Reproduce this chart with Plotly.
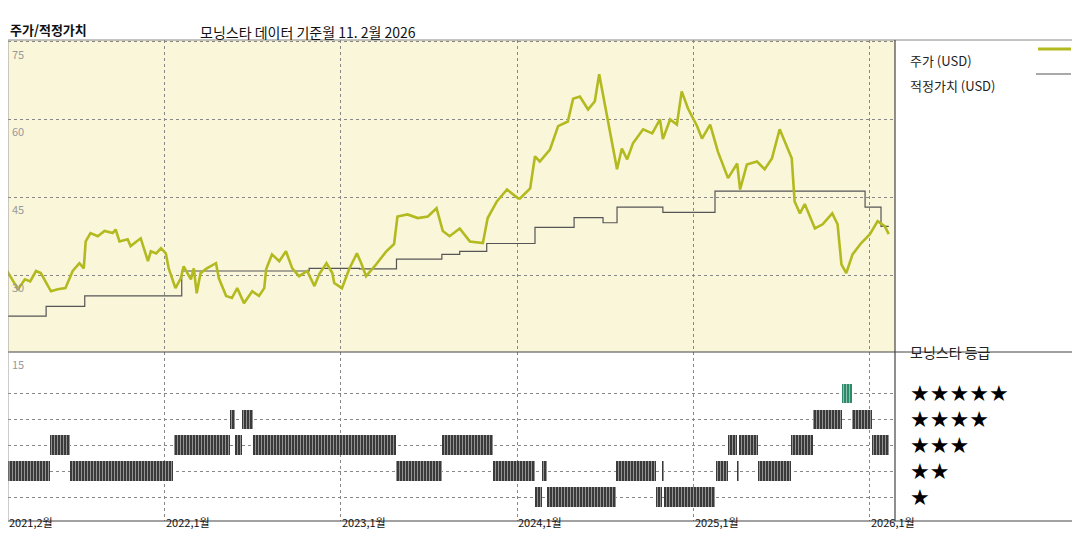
import pandas as pd
import plotly.graph_objects as go

# price (USD)
price_dates = [
    "2021-02-01", "2021-02-07", "2021-02-21", "2021-03-03", "2021-03-17", "2021-03-28", "2021-04-09",
    "2021-04-19", "2021-05-10", "2021-05-24", "2021-06-09", "2021-06-24", "2021-07-08", "2021-07-17",
    "2021-07-21", "2021-07-31", "2021-08-15", "2021-08-29", "2021-09-15", "2021-09-21", "2021-09-29",
    "2021-10-16", "2021-10-22", "2021-11-12", "2021-11-27", "2021-12-03", "2021-12-14", "2021-12-24",
    "2022-01-03", "2022-01-09", "2022-01-23", "2022-02-03", "2022-02-09", "2022-02-24", "2022-03-02",
    "2022-03-08", "2022-03-16", "2022-03-29", "2022-04-17", "2022-04-23", "2022-05-08", "2022-05-20",
    "2022-05-31", "2022-06-14", "2022-07-01", "2022-07-15", "2022-07-26", "2022-07-30", "2022-08-11",
    "2022-08-26", "2022-09-09", "2022-09-22", "2022-10-06", "2022-10-23", "2022-11-07", "2022-11-17",
    "2022-12-02", "2022-12-14", "2022-12-18", "2023-01-03", "2023-01-18", "2023-02-03", "2023-02-12",
    "2023-02-22", "2023-03-15", "2023-04-05", "2023-04-21", "2023-04-28", "2023-05-19", "2023-06-09",
    "2023-06-30", "2023-07-18", "2023-07-31", "2023-08-14", "2023-09-04", "2023-09-25", "2023-10-22",
    "2023-11-01", "2023-11-20", "2023-12-11", "2024-01-03", "2024-01-07", "2024-01-28", "2024-02-07",
    "2024-02-17", "2024-03-09", "2024-03-26", "2024-04-15", "2024-04-26", "2024-05-10", "2024-05-27",
    "2024-06-10", "2024-06-19", "2024-07-01", "2024-07-11", "2024-07-26", "2024-08-05", "2024-08-16",
    "2024-08-28", "2024-09-18", "2024-10-07", "2024-10-23", "2024-10-29", "2024-11-13", "2024-11-27",
    "2024-12-07", "2024-12-20", "2025-01-08", "2025-01-18", "2025-02-04", "2025-02-20", "2025-03-13",
    "2025-04-01", "2025-04-07", "2025-04-21", "2025-05-12", "2025-05-28", "2025-06-12", "2025-06-28",
    "2025-07-15", "2025-07-23", "2025-07-29", "2025-08-09", "2025-08-19", "2025-09-09", "2025-09-25",
    "2025-10-15", "2025-10-26", "2025-11-03", "2025-11-13", "2025-11-26", "2025-12-14", "2026-01-01",
    "2026-01-17", "2026-02-01", "2026-02-09",
]
price_vals = [
    30.4, 31.0, 28.8, 27.3, 29.2, 28.8, 30.8,
    30.4, 26.9, 27.3, 27.5, 30.8, 32.3, 31.3,
    36.5, 38.1, 37.5, 38.5, 38.1, 38.8, 36.5,
    36.9, 35.6, 37.1, 32.7, 34.6, 34.2, 35.2,
    34.2, 31.3, 27.5, 29.4, 31.7, 29.2, 31.3,
    26.5, 30.4, 31.3, 32.3, 29.4, 26.0, 25.6,
    27.5, 24.6, 26.9, 26.0, 27.5, 31.2, 34.0,
    32.7, 34.6, 31.3, 29.8, 30.8, 27.9, 30.2,
    32.3, 30.4, 28.5, 27.5, 31.2, 34.2, 32.3,
    29.8, 32.1, 34.6, 36.0, 41.3, 41.7, 41.0,
    41.3, 42.9, 38.5, 37.5, 39.0, 36.5, 36.2,
    41.0, 44.2, 46.5, 44.8, 44.8, 46.7, 52.9,
    51.9, 54.2, 58.7, 59.6, 64.0, 64.4, 61.9,
    63.5, 68.7, 62.9, 57.7, 50.4, 54.4, 52.3,
    55.4, 58.1, 57.3, 60.0, 56.2, 60.0, 59.0,
    65.4, 62.1, 58.7, 56.3, 59.0, 53.8, 48.7,
    51.5, 46.5, 51.3, 51.9, 50.4, 52.5, 58.1,
    54.2, 52.5, 44.2, 41.9, 43.7, 39.0, 39.8,
    41.9, 39.8, 32.1, 30.4, 34.0, 36.2, 37.9,
    40.4, 39.4, 37.9,
]

# fair value (USD), step changes
fv_dates = ["2021-02-01", "2021-02-02", "2021-04-30", "2021-07-19", "2022-02-05", "2022-10-27",
            "2023-02-08", "2023-04-26", "2023-07-29", "2023-09-04", "2023-10-30", "2024-02-07",
            "2024-04-28", "2024-06-27", "2024-07-26", "2024-10-29", "2025-02-14", "2025-12-22",
            "2026-01-24", "2026-02-09"]
fv_vals = [19.8, 22.1, 24.0, 26.0, 30.8, 31.3, 31.2, 33.1, 34.0, 34.6, 36.1, 39.2,
           41.1, 40.1, 43.1, 42.1, 46.2, 43.1, 39.4, 39.4]

# morningstar rating periods
rating_start = ["2021-02-01", "2021-05-08", "2021-06-18", "2022-01-19", "2022-05-16", "2022-05-26",
                "2022-06-10", "2022-07-03", "2023-04-26", "2023-07-29", "2023-11-13", "2024-02-07",
                "2024-02-21", "2024-03-03", "2024-07-24", "2024-10-15", "2024-10-28", "2024-11-01",
                "2025-02-16", "2025-03-13", "2025-04-01", "2025-04-05", "2025-05-14", "2025-07-21",
                "2025-09-05", "2025-11-05", "2025-11-24", "2026-01-06"]
rating_end = ["2021-05-08", "2021-06-18", "2022-01-17", "2022-05-16", "2022-05-26", "2022-06-10",
              "2022-07-03", "2023-04-26", "2023-07-29", "2023-11-13", "2024-02-07", "2024-02-21",
              "2024-03-03", "2024-07-24", "2024-10-15", "2024-10-28", "2024-11-01", "2025-02-14",
              "2025-03-13", "2025-04-01", "2025-04-05", "2025-05-14", "2025-07-21", "2025-09-05",
              "2025-11-05", "2025-11-24", "2026-01-06", "2026-02-09"]
rating_val = [2, 3, 2, 3, 4, 3, 4, 3, 2, 3, 2, 1, 2, 1, 2, 1, 2, 1, 2, 3, 2, 3, 2, 3, 4, 5, 4, 3]

year_ticks = ["2022-01-01", "2023-01-01", "2024-01-01", "2025-01-01", "2026-01-01"]
x_labels = ["2021,2월", "2022,1월", "2023,1월", "2024,1월", "2025,1월", "2026,1월"]
y_labels = [75, 60, 45, 30]
stars = ["★★★★★", "★★★★", "★★★", "★★", "★"]

# page has an 8px body margin, so the figure is drawn 8px in from the window corner
OFF = 8
W, H = 1080 - 2 * OFF, 540 - 2 * OFF
FONT = "Noto Sans CJK KR"
OLIVE = "#B3BA1F"
X_RANGE = ["2021-02-10", "2026-02-22"]

def px(x):
    return min(max((x - OFF) / W, 0), 1)

def py(y):
    return min(max(1 - (y - OFF) / H, 0), 1)

fig = go.Figure()
fig.add_trace(go.Scatter(x=fv_dates, y=fv_vals, mode="lines", line=dict(color="#555", width=1.2, shape="hv"),
                         xaxis="x", yaxis="y", showlegend=False, hoverinfo="skip"))
fig.add_trace(go.Scatter(x=price_dates, y=price_vals, mode="lines", line=dict(color=OLIVE, width=2.6),
                         xaxis="x", yaxis="y", showlegend=False))

rs = pd.to_datetime(pd.Series(rating_start))
re_ = pd.to_datetime(pd.Series(rating_end))
mid = rs + (re_ - rs) / 2
width_ms = (re_ - rs).dt.total_seconds() * 1000
colors = ["#2E8B6A" if r == 5 else "#3a3a3a" for r in rating_val]
fig.add_trace(go.Bar(x=mid, y=[0.76] * len(rating_val), base=[r - 0.38 for r in rating_val],
                     width=width_ms, marker=dict(color=colors, line=dict(width=0),
                                                 pattern=dict(shape="|", fgcolor="#9a9a9a", size=3, solidity=0.3)),
                     xaxis="x2", yaxis="y2", showlegend=False))

grid = dict(showgrid=True, gridcolor="#888", griddash="dot", gridwidth=1, zeroline=False, showticklabels=False,
            ticks="")
top_dom = [py(352), py(40)]
bot_dom = [py(521), py(352)]
xdom = [px(8), px(895)]
fig.update_layout(
    width=W, height=H, margin=dict(l=0, r=0, t=0, b=0), paper_bgcolor="white", plot_bgcolor="white",
    bargap=0, barmode="overlay",
    xaxis=dict(domain=xdom, range=X_RANGE, type="date", tickvals=year_ticks, anchor="y", **grid),
    yaxis=dict(domain=top_dom, range=[15.2, 75.3], tickvals=[30, 45, 60, 75], anchor="x", **grid),
    xaxis2=dict(domain=xdom, range=X_RANGE, type="date", tickvals=year_ticks, anchor="y2", **grid),
    yaxis2=dict(domain=bot_dom, range=[0.08, 6.6], tickvals=[1, 2, 3, 4, 5], anchor="x2", **grid),
)
# yellow panel background
fig.add_shape(type="rect", xref="paper", yref="paper", x0=xdom[0], x1=xdom[1], y0=top_dom[0], y1=top_dom[1],
              fillcolor="#FAF6DA", line_width=0, layer="below")

# frame lines
for x0, y0, x1, y1, c, w in [(8, 40, 1072, 40, "#888", 1), (895, 40, 895, 521, "#444", 1.2),
                            (8, 352, 1072, 352, "#444", 1.2), (8, 521, 1072, 521, "#444", 1.2),
                            (8, 40, 8, 521, "#999", 1)]:
    fig.add_shape(type="line", xref="paper", yref="paper", x0=px(x0), y0=py(y0), x1=px(x1), y1=py(y1),
                  line=dict(color=c, width=w))

# axis labels
for v in y_labels:
    fig.add_annotation(x=X_RANGE[0], y=v, xref="x", yref="y", text=str(v), showarrow=False, xanchor="left",
                       yanchor="top", xshift=2, yshift=-2, font=dict(family=FONT, size=11, color="#999"))
fig.add_annotation(x=X_RANGE[0], y=6.6, xref="x2", yref="y2", text="15", showarrow=False, xanchor="left",
                   yanchor="top", xshift=2, yshift=-2, font=dict(family=FONT, size=11, color="#999"))
for d, t in zip([X_RANGE[0]] + year_ticks, x_labels):
    fig.add_annotation(x=d, y=0, xref="x2", yref="paper", text=t, showarrow=False, xanchor="left",
                       yanchor="bottom", xshift=-1, font=dict(family=FONT, size=11, color="#111"))

# titles
fig.add_annotation(x=px(8), y=py(18), xref="paper", yref="paper", text="<b>주가/적정가치</b>", showarrow=False,
                   xanchor="left", font=dict(family=FONT, size=13, color="#111"))
fig.add_annotation(x=px(198), y=py(20), xref="paper", yref="paper", text="모닝스타 데이터 기준월 11. 2월 2026",
                   showarrow=False, xanchor="left", font=dict(family=FONT, size=14, color="#111"))

# legend
fig.add_annotation(x=px(908), y=py(49), xref="paper", yref="paper", text="주가 (USD)", showarrow=False,
                   xanchor="left", font=dict(family=FONT, size=13, color="#222"))
fig.add_shape(type="line", xref="paper", yref="paper", x0=px(1038), x1=px(1071), y0=py(49), y1=py(49),
              line=dict(color=OLIVE, width=3))
fig.add_annotation(x=px(908), y=py(74), xref="paper", yref="paper", text="적정가치 (USD)", showarrow=False,
                   xanchor="left", font=dict(family=FONT, size=13, color="#222"))
fig.add_shape(type="line", xref="paper", yref="paper", x0=px(1036), x1=px(1071), y0=py(74), y1=py(74),
              line=dict(color="#555", width=1.2))
fig.add_annotation(x=px(908), y=py(364), xref="paper", yref="paper", text="모닝스타 등급", showarrow=False,
                   xanchor="left", font=dict(family=FONT, size=14, color="#222"))
for i, s in enumerate(stars):
    fig.add_annotation(x=px(908), y=5 - i, xref="paper", yref="y2", text=s, showarrow=False, xanchor="left",
                       font=dict(family="DejaVu Sans", size=22, color="#000"))

fig.write_html("out.html")
